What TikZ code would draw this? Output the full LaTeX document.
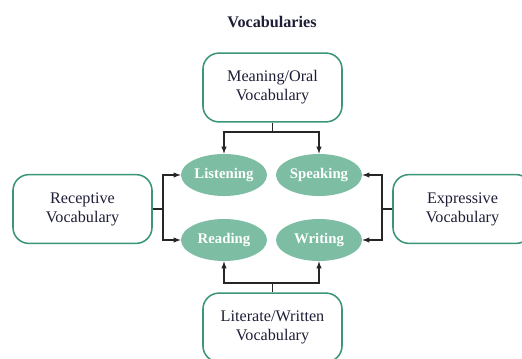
\documentclass[tikz,border=0pt]{standalone}
\usepackage{fontspec}
\setmainfont{Liberation Serif}
\usepackage{tikz}
\usetikzlibrary{shapes.geometric}
\definecolor{vocteal}{RGB}{58,150,118}
\definecolor{vocfill}{RGB}{124,189,164}
\definecolor{vocink}{RGB}{30,30,55}
\tikzset{
  vbox/.style={draw=vocteal,line width=1.1pt,rounded corners=0.4cm,fill=white,
    minimum width=3.475cm,minimum height=1.72cm,align=center,text=vocink,font=\fontsize{11.5}{13.5}\selectfont},
  skill/.style={ellipse,fill=vocfill,minimum width=2.15cm,minimum height=1.05cm,
    inner sep=0pt,text=white,font=\bfseries\fontsize{10.5}{12}\selectfont},
  link/.style={draw=black!85,line width=0.75pt},
}
\begin{document}
\begin{tikzpicture}[x=0.025cm,y=-0.025cm,>=latex]
\useasboundingbox (0,0) rectangle (522,358);
\node[font=\bfseries\fontsize{11.5}{13}\selectfont,text=vocink] (title) at (272,22) {Vocabularies};
\node[vbox] (oral) at (272.5,87.5) {Meaning/Oral\\Vocabulary};
\node[vbox] (recep) at (82.5,209) {Receptive\\Vocabulary};
\node[vbox] (expr) at (462.5,209) {Expressive\\Vocabulary};
\node[vbox] (written) at (272.5,327.5) {Literate/Written\\Vocabulary};
\node[skill] (listen) at (224,175) {Listening};
\node[skill] (speak) at (319,175) {Speaking};
\node[skill] (read) at (224,240) {Reading};
\node[skill] (write) at (319,240) {Writing};
\coordinate (oj) at (272.5,132);
\coordinate (rj) at (163,209);
\coordinate (ej) at (382,209);
\coordinate (wj) at (272.5,283);
\draw [link] (oral.south) -- (oj);
\draw [link,->] (oj) -| (listen.north);
\draw [link,->] (oj) -| (speak.north);
\draw [link] (recep.east) -- (rj);
\draw [link,->] (rj) |- (listen.west);
\draw [link,->] (rj) |- (read.west);
\draw [link] (expr.west) -- (ej);
\draw [link,->] (ej) |- (speak.east);
\draw [link,->] (ej) |- (write.east);
\draw [link] (written.north) -- (wj);
\draw [link,->] (wj) -| (read.south);
\draw [link,->] (wj) -| (write.south);
\end{tikzpicture}
\end{document}
